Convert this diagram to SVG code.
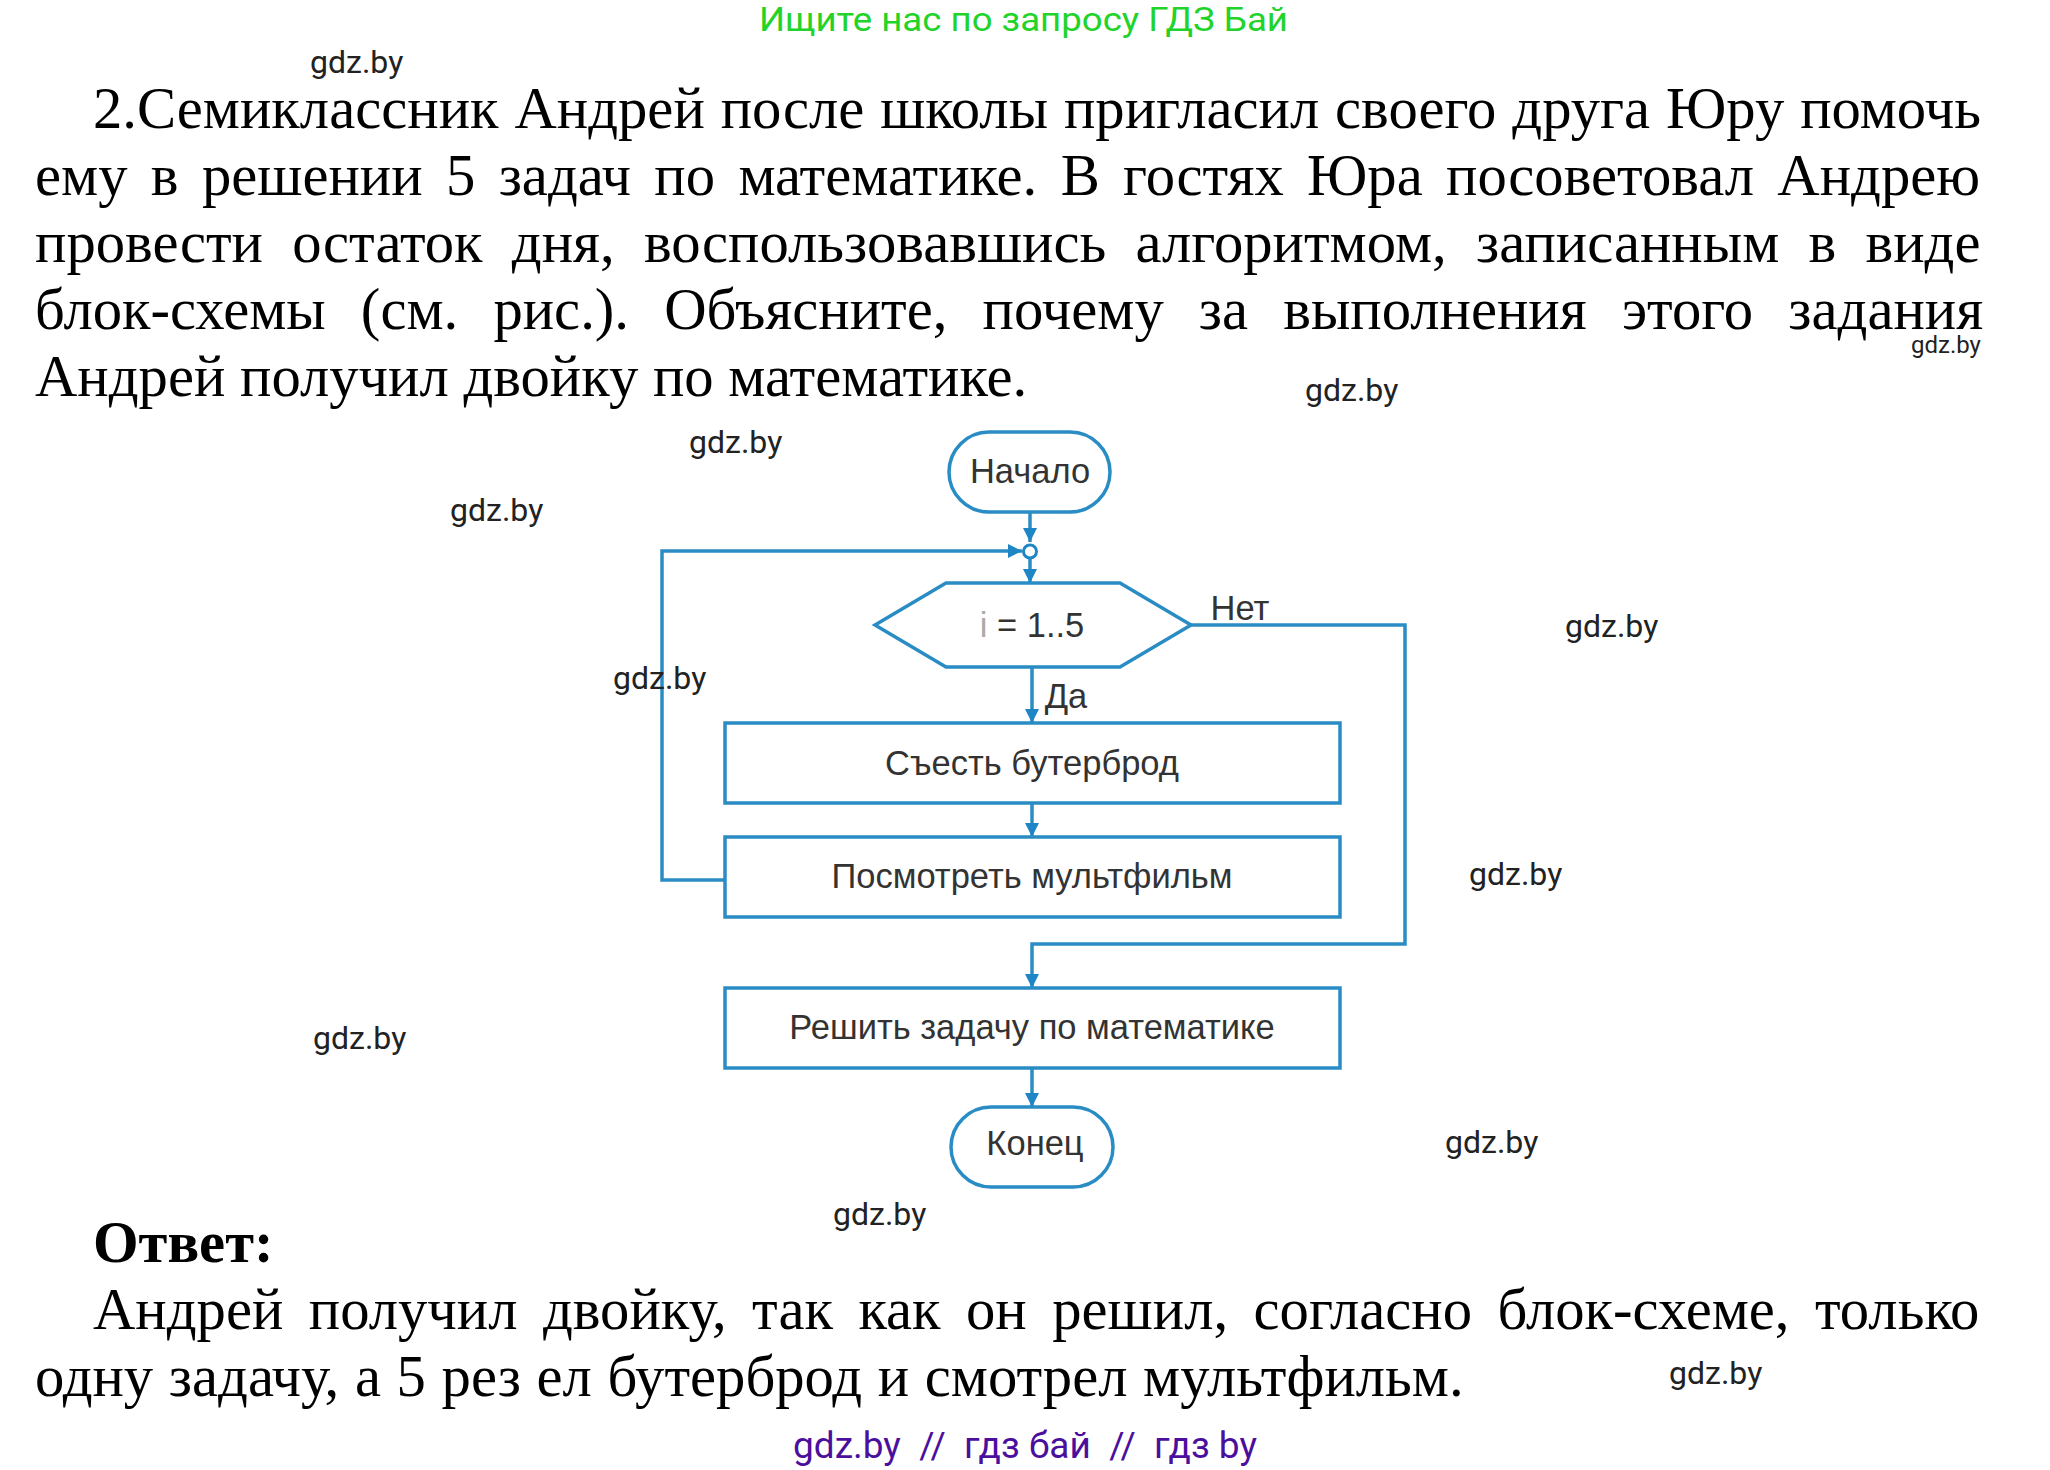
<svg xmlns="http://www.w3.org/2000/svg" width="2050" height="1470" viewBox="0 0 2050 1470">
<style>
.body{font-family:"Liberation Serif","Times New Roman",serif;font-size:58.67px;fill:#000}
.wm{font-family:Roboto,"Liberation Sans",sans-serif;font-size:32px;fill:#222}
.lbl{font-family:"Liberation Sans",Arial,sans-serif;font-size:34.5px;fill:#333;text-anchor:middle}
.shape{fill:#fff;stroke:#2a8cc4;stroke-width:3.5}
.arrow{fill:none;stroke:#2a8cc4;stroke-width:3.5;marker-end:url(#ah)}
</style>
<defs>
<marker id="ah" markerUnits="userSpaceOnUse" markerWidth="16" markerHeight="16" refX="14" refY="7" orient="auto"><path d="M0 0L14 7L0 14z" fill="#1f86c6"/></marker>
</defs>
<rect width="2050" height="1470" fill="#fff"/>
<text x="759" y="31" textLength="529" lengthAdjust="spacingAndGlyphs" style="font-family:Roboto,'Liberation Sans',sans-serif;font-size:33px;fill:#22d32a">Ищите нас по запросу ГДЗ Бай</text>
<g id="task">
<text class="body" x="93" y="128" style="word-spacing:1.25px">2.Семиклассник Андрей после школы пригласил своего друга Юру помочь</text>
<text class="body" x="35" y="195" style="word-spacing:8.7px">ему в решении 5 задач по математике. В гостях Юра посоветовал Андрею</text>
<text class="body" x="35" y="262" style="word-spacing:14.6px">провести остаток дня, воспользовавшись алгоритмом, записанным в виде</text>
<text class="body" x="35" y="329" style="word-spacing:20.5px">блок-схемы (см. рис.). Объясните, почему за выполнения этого задания</text>
<text class="body" x="35" y="396">Андрей получил двойку по математике.</text>
</g>
<g id="connectors">
<path class="arrow" d="M1030 512V542"/>
<path class="arrow" d="M1030 558V583"/>
<path class="arrow" d="M726 880H662V551H1022"/>
<path class="arrow" d="M1032 667V723"/>
<path class="arrow" d="M1032 803V837"/>
<path class="arrow" d="M1191 625H1405V944H1032V988"/>
<path class="arrow" d="M1032 1068V1107"/>
</g>
<g id="start"><rect class="shape" x="949" y="432" width="161" height="80" rx="40" ry="40"/><text class="lbl" x="1030" y="483">Начало</text></g>
<g id="junction"><circle cx="1030" cy="551.5" r="6.5" fill="#fff" stroke="#1f86c6" stroke-width="3"/></g>
<g id="loop"><path class="shape" d="M875 625L946 583H1120L1191 625L1120 667H946Z"/><text class="lbl" x="1032" y="637"><tspan fill="#aaa">i</tspan> = 1..5</text></g>
<g id="eat"><rect class="shape" x="725" y="723" width="615" height="80"/><text class="lbl" x="1032" y="775">Съесть бутерброд</text></g>
<g id="watch"><rect class="shape" x="725" y="837" width="615" height="80"/><text class="lbl" x="1032" y="888">Посмотреть мультфильм</text></g>
<g id="solve"><rect class="shape" x="725" y="988" width="615" height="80"/><text class="lbl" x="1032" y="1039">Решить задачу по математике</text></g>
<g id="end"><rect class="shape" x="951" y="1107" width="162" height="80" rx="40" ry="40"/><text class="lbl" x="1035" y="1155">Конец</text></g>
<text class="lbl" x="1240" y="620">Нет</text>
<text class="lbl" x="1066" y="708">Да</text>
<g id="answer">
<text class="body" x="93" y="1262" style="font-weight:bold">Ответ:</text>
<text class="body" x="93" y="1329" style="word-spacing:10.8px">Андрей получил двойку, так как он решил, согласно блок-схеме, только</text>
<text class="body" x="35" y="1396" style="word-spacing:1px">одну задачу, а 5 рез ел бутерброд и смотрел мультфильм.</text>
</g>
<g id="watermarks">
<text class="wm" x="310" y="73">gdz.by</text>
<text class="wm" x="1911" y="353" style="font-size:24px">gdz.by</text>
<text class="wm" x="1305" y="401">gdz.by</text>
<text class="wm" x="689" y="453">gdz.by</text>
<text class="wm" x="450" y="521">gdz.by</text>
<text class="wm" x="1565" y="637">gdz.by</text>
<text class="wm" x="613" y="689">gdz.by</text>
<text class="wm" x="1469" y="885">gdz.by</text>
<text class="wm" x="313" y="1049">gdz.by</text>
<text class="wm" x="1445" y="1153">gdz.by</text>
<text class="wm" x="833" y="1225">gdz.by</text>
<text class="wm" x="1669" y="1384">gdz.by</text>
</g>
<text x="793" y="1458" style="font-family:Roboto,'Liberation Sans',sans-serif;font-size:37px;fill:#4b0f9e">gdz.by &#160;// &#160;гдз бай &#160;// &#160;гдз by</text>
</svg>
